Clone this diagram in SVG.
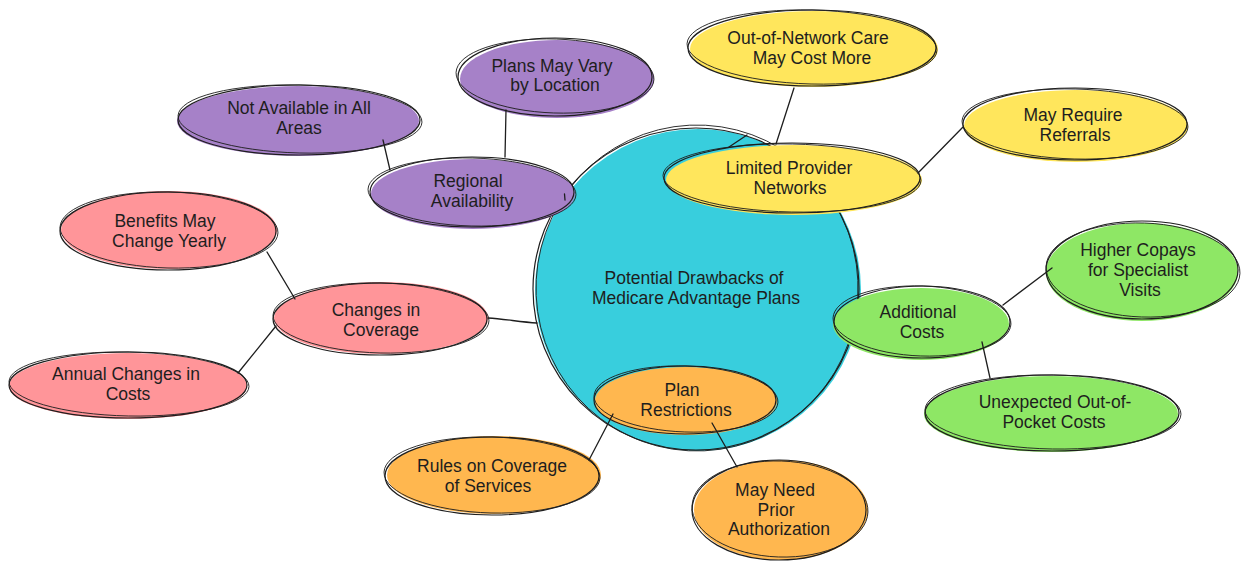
<svg xmlns="http://www.w3.org/2000/svg" width="1248" height="570" viewBox="0 0 1248 570">
  <style>
    .bg{fill:#ffffff}
    .o{fill:none;stroke:#1e1e1e;stroke-width:1.2}
    .o2{fill:none;stroke:#1e1e1e;stroke-width:0.9}
    .cyan{fill:#38cedd}
    .purple{fill:#a681c8}
    .yellow{fill:#ffe65c}
    .pink{fill:#ff9599}
    .green{fill:#8ee765}
    .orange{fill:#ffb74f}
    .t{font-family:"Liberation Sans",Arial,sans-serif;font-size:17.5px;fill:#1e1e1e;text-anchor:middle}
    .c{fill:none;stroke:#1e1e1e;stroke-width:1.3;stroke-linecap:round}
  </style>
  <rect class="bg" x="0" y="0" width="1248" height="570"/>

  <g id="central">
    <ellipse class="cyan" cx="698" cy="290" rx="163" ry="161"/>
    <ellipse class="o" cx="696" cy="289" rx="163" ry="161"/>
    <ellipse class="o2" cx="697" cy="288" rx="161" ry="163" transform="rotate(3 697 288)"/>
    <text class="t" x="694" y="284">Potential Drawbacks of</text>
    <text class="t" x="696" y="304">Medicare Advantage Plans</text>
  </g>

  <g id="regional-availability">
    <ellipse class="purple" cx="473" cy="194" rx="102" ry="35"/>
    <ellipse class="o" cx="472" cy="192" rx="102" ry="35"/>
    <ellipse class="o2" cx="472" cy="192" rx="104" ry="34" transform="rotate(1.5 472 192)"/>
    <text class="t" x="468" y="187">Regional</text>
    <text class="t" x="472" y="207">Availability</text>
  </g>

  <g id="plans-may-vary">
    <ellipse class="purple" cx="557" cy="79" rx="97" ry="39"/>
    <ellipse class="o" cx="555" cy="77" rx="97" ry="39"/>
    <ellipse class="o2" cx="555" cy="76" rx="99" ry="37" transform="rotate(2 555 76)"/>
    <text class="t" x="552" y="72">Plans May Vary</text>
    <text class="t" x="555" y="91">by Location</text>
  </g>

  <g id="not-available">
    <ellipse class="purple" cx="298" cy="121" rx="121" ry="35"/>
    <ellipse class="o" cx="299" cy="120" rx="121" ry="35"/>
    <ellipse class="o2" cx="300" cy="119" rx="122" ry="34" transform="rotate(1.5 300 119)"/>
    <text class="t" x="299" y="114">Not Available in All</text>
    <text class="t" x="299" y="134">Areas</text>
  </g>

  <g id="out-of-network">
    <ellipse class="yellow" cx="814" cy="49" rx="124" ry="38"/>
    <ellipse class="o" cx="812" cy="48" rx="124" ry="38"/>
    <ellipse class="o2" cx="812" cy="47" rx="125" ry="37" transform="rotate(1.5 812 47)"/>
    <text class="t" x="808" y="44">Out-of-Network Care</text>
    <text class="t" x="812" y="64">May Cost More</text>
  </g>

  <g id="limited-provider">
    <ellipse class="yellow" cx="794" cy="180" rx="128" ry="35"/>
    <ellipse class="o" cx="792" cy="178" rx="128" ry="35"/>
    <ellipse class="o2" cx="792" cy="178" rx="129" ry="34" transform="rotate(1.2 792 178)"/>
    <text class="t" x="789" y="174">Limited Provider</text>
    <text class="t" x="790" y="194">Networks</text>
  </g>

  <g id="may-require-referrals">
    <ellipse class="yellow" cx="1076" cy="126" rx="112" ry="36"/>
    <ellipse class="o" cx="1075" cy="124" rx="112" ry="36"/>
    <ellipse class="o2" cx="1075" cy="124" rx="113" ry="35" transform="rotate(1.5 1075 124)"/>
    <text class="t" x="1073" y="121">May Require</text>
    <text class="t" x="1075" y="141">Referrals</text>
  </g>

  <g id="higher-copays">
    <ellipse class="green" cx="1142" cy="272" rx="96" ry="49"/>
    <ellipse class="o" cx="1142" cy="270" rx="96" ry="49"/>
    <ellipse class="o2" cx="1143" cy="270" rx="97" ry="47" transform="rotate(2 1143 270)"/>
    <text class="t" x="1138" y="256">Higher Copays</text>
    <text class="t" x="1138" y="276">for Specialist</text>
    <text class="t" x="1140" y="296">Visits</text>
  </g>

  <g id="additional-costs">
    <ellipse class="green" cx="921" cy="324" rx="88" ry="36"/>
    <ellipse class="o" cx="922" cy="322" rx="88" ry="36"/>
    <ellipse class="o2" cx="922" cy="321" rx="89" ry="35" transform="rotate(2 922 321)"/>
    <text class="t" x="918" y="318">Additional</text>
    <text class="t" x="922" y="338">Costs</text>
  </g>

  <g id="unexpected-costs">
    <ellipse class="green" cx="1051" cy="414" rx="127" ry="38"/>
    <ellipse class="o" cx="1052" cy="413" rx="127" ry="38"/>
    <ellipse class="o2" cx="1053" cy="412" rx="128" ry="37" transform="rotate(1 1053 412)"/>
    <text class="t" x="1055" y="408">Unexpected Out-of-</text>
    <text class="t" x="1054" y="428">Pocket Costs</text>
  </g>

  <g id="plan-restrictions">
    <ellipse class="orange" cx="686" cy="401" rx="91" ry="34"/>
    <ellipse class="o" cx="685" cy="400" rx="91" ry="34"/>
    <ellipse class="o2" cx="686" cy="399" rx="92" ry="33" transform="rotate(2 686 399)"/>
    <text class="t" x="682" y="396">Plan</text>
    <text class="t" x="686" y="416">Restrictions</text>
  </g>

  <g id="rules-on-coverage">
    <ellipse class="orange" cx="494" cy="475" rx="107" ry="39"/>
    <ellipse class="o" cx="492" cy="476" rx="107" ry="39"/>
    <ellipse class="o2" cx="492" cy="475" rx="108" ry="38" transform="rotate(1.5 492 475)"/>
    <text class="t" x="492" y="472">Rules on Coverage</text>
    <text class="t" x="488" y="492">of Services</text>
  </g>

  <g id="prior-authorization">
    <ellipse class="orange" cx="781" cy="510" rx="87" ry="50"/>
    <ellipse class="o" cx="779" cy="510" rx="87" ry="50"/>
    <ellipse class="o2" cx="780" cy="509" rx="88" ry="48" transform="rotate(2 780 509)"/>
    <text class="t" x="775" y="496">May Need</text>
    <text class="t" x="776" y="516">Prior</text>
    <text class="t" x="779" y="535">Authorization</text>
  </g>

  <g id="changes-in-coverage">
    <ellipse class="pink" cx="381" cy="318" rx="107" ry="36"/>
    <ellipse class="o" cx="380" cy="319" rx="107" ry="36"/>
    <ellipse class="o2" cx="381" cy="318" rx="108" ry="35" transform="rotate(1.5 381 318)"/>
    <text class="t" x="376" y="316">Changes in</text>
    <text class="t" x="381" y="336">Coverage</text>
  </g>

  <g id="benefits-may-change">
    <ellipse class="pink" cx="169" cy="230" rx="108" ry="39"/>
    <ellipse class="o" cx="168" cy="231" rx="108" ry="39"/>
    <ellipse class="o2" cx="169" cy="230" rx="109" ry="38" transform="rotate(1.5 169 230)"/>
    <text class="t" x="165" y="227">Benefits May</text>
    <text class="t" x="169" y="247">Change Yearly</text>
  </g>

  <g id="annual-changes">
    <ellipse class="pink" cx="128" cy="386" rx="119" ry="33"/>
    <ellipse class="o" cx="128" cy="385" rx="119" ry="33"/>
    <ellipse class="o2" cx="129" cy="384" rx="120" ry="32" transform="rotate(1.2 129 384)"/>
    <text class="t" x="126" y="380">Annual Changes in</text>
    <text class="t" x="128" y="400">Costs</text>
  </g>

  <g id="connectors">
    <path class="c" d="M564.5 194 L565 200"/>
    <path class="c" d="M383 140 L390 170"/>
    <path class="c" d="M506 110 L505 157"/>
    <path class="c" d="M729 147 L747 135"/>
    <path class="c" d="M794 88 L776 144"/>
    <path class="c" d="M918 173 L963 127"/>
    <path class="c" d="M1003 305 L1052 268"/>
    <path class="c" d="M982 342 L990 378"/>
    <path class="c" d="M613 414 L589 460"/>
    <path class="c" d="M712 423 L737 467"/>
    <path class="c" d="M488 318 C505 319 520 322 537 323"/>
    <path class="c" d="M267 252 L295 299"/>
    <path class="c" d="M276 326 L238 373"/>
  </g>
</svg>
